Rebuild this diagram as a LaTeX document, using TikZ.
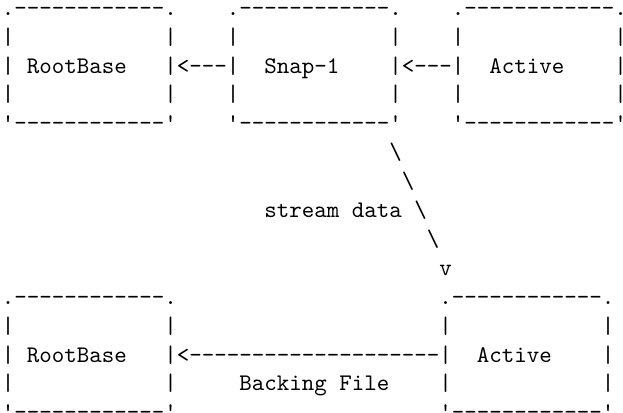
\documentclass[tikz,border=0pt]{standalone}
\usepackage{fontspec}
% monospaced Latin Modern, loaded without TeX ligatures so "--" and "'" stay literal
\setmonofont{lmmono10-regular.otf}
\begin{document}
\begin{tikzpicture}[x=1bp,y=1bp,
  ascii/.style={anchor=base west, inner sep=0pt, outer sep=0pt,
    font=\ttfamily\fontsize{23.81bp}{28.9bp}\selectfont}]
\useasboundingbox (0,0) rectangle (623,-412);

% one character cell grid: column width 12.5bp, line pitch 28.9bp
\newcommand\cell[4]{%
  \node[ascii] (#1) at ({1.75+(#2)*12.5},{-(15.2+((#3)-1)*28.9)}) {#4};}

% a 14-column, 5-line text box with a label on its middle line
\newcommand\asciibox[5]{%
  \cell{#1-top}{#2}{#3}{.------------.}
  \cell{#1-ul}{#2}{#3+1}{|}
  \cell{#1-ur}{#2+13}{#3+1}{|}
  \cell{#1-ml}{#2}{#3+2}{|}
  \cell{#1-label}{#2+#4}{#3+2}{#5}
  \cell{#1-mr}{#2+13}{#3+2}{|}
  \cell{#1-ll}{#2}{#3+3}{|}
  \cell{#1-lr}{#2+13}{#3+3}{|}
  \cell{#1-bot}{#2}{#3+4}{'------------'}}

% upper chain
\asciibox{rootA}{0}{1}{2}{RootBase}
\asciibox{snap}{18}{1}{3}{Snap-1}
\asciibox{activeA}{36}{1}{3}{Active}
\cell{snap-to-root}{14}{3}{<---}
\cell{active-to-snap}{32}{3}{<---}

% streaming path
\cell{s1}{31}{6}{\textbackslash}
\cell{s2}{32}{7}{\textbackslash}
\cell{streamlabel}{21}{8}{stream data}
\cell{s3}{33}{8}{\textbackslash}
\cell{s4}{34}{9}{\textbackslash}
\cell{s5}{35}{10}{v}

% lower chain
\asciibox{rootB}{0}{11}{2}{RootBase}
\asciibox{activeB}{35}{11}{3}{Active}
\cell{backing}{14}{13}{<--------------------}
\cell{backinglabel}{19}{14}{Backing File}
\end{tikzpicture}
\end{document}
